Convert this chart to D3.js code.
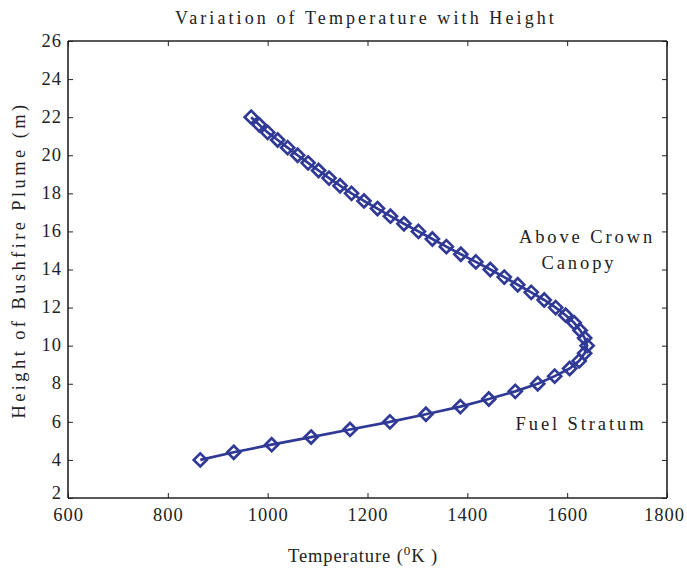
<!DOCTYPE html>
<html>
<head>
<meta charset="utf-8">
<script src="https://cdn.jsdelivr.net/npm/d3@7/dist/d3.min.js"></script>
<style>
  body { margin: 0; background: #fff; }
  svg text { font-family: "Liberation Serif", "Times New Roman", serif; fill: #222; }
</style>
</head>
<body>
<svg id="chart" width="687" height="574"></svg>
<script>
// Plume height (m) and the temperature (K) computed at each height
const heights = [
  4.0, 4.4, 4.8, 5.2, 5.6, 6.0, 6.4, 6.8, 7.2, 7.6, 8.0, 8.4, 8.8, 9.2, 9.6,
  10.0, 10.4, 10.8, 11.2, 11.6, 12.0, 12.4, 12.8, 13.2, 13.6, 14.0, 14.4, 14.8,
  15.2, 15.6, 16.0, 16.4, 16.8, 17.2, 17.6, 18.0, 18.4, 18.8, 19.2, 19.6, 20.0,
  20.4, 20.8, 21.2, 21.6, 22.0
];
const temperatures = [
  865, 932, 1008, 1087, 1165, 1245, 1317, 1386, 1443, 1496, 1541, 1575, 1605, 1624, 1635,
  1640, 1635, 1626, 1614, 1597, 1577, 1554, 1528, 1501, 1474, 1446, 1417, 1387,
  1358, 1330, 1302, 1273, 1246, 1220, 1193, 1168, 1145, 1123, 1102, 1081, 1060,
  1040, 1020, 1000, 983, 967
];
const xTicks = [600, 800, 1000, 1200, 1400, 1600, 1800];
const yTicks = [2, 4, 6, 8, 10, 12, 14, 16, 18, 20, 22, 24, 26];

const serif = '"Liberation Serif", "Times New Roman", serif';
const svg = d3.select("#chart");
const plot = { left: 68, right: 667, top: 41, bottom: 498 };
const color = "#303a96";

const x = d3.scaleLinear().domain([600, 1800]).range([plot.left, plot.right]);
const y = d3.scaleLinear().domain([2, 26]).range([plot.bottom, plot.top]);

const tickLen = 5;
const axisColor = "#222";

// Axes with inward ticks on all four sides
const gBottom = svg.append("g").attr("transform", `translate(0,${plot.bottom})`)
  .call(d3.axisBottom(x).tickValues(xTicks).tickSize(-tickLen).tickPadding(10).tickFormat(d3.format("d")));
const gTop = svg.append("g").attr("transform", `translate(0,${plot.top})`)
  .call(d3.axisTop(x).tickValues(xTicks).tickSize(-tickLen).tickFormat(""));
const gLeft = svg.append("g").attr("transform", `translate(${plot.left},0)`)
  .call(d3.axisLeft(y).tickValues(yTicks).tickSize(-tickLen).tickPadding(6).tickFormat(d3.format("d")));
const gRight = svg.append("g").attr("transform", `translate(${plot.right},0)`)
  .call(d3.axisRight(y).tickValues(yTicks).tickSize(-tickLen).tickFormat(""));

[gBottom, gTop, gLeft, gRight].forEach(g => {
  g.attr("font-family", serif);
  g.select(".domain").attr("stroke", axisColor).attr("stroke-width", 1.6);
  g.selectAll(".tick line").attr("stroke", axisColor).attr("stroke-width", 1);
  g.selectAll(".tick text")
    .style("font-family", serif)
    .style("font-size", "18.5px")
    .style("letter-spacing", "1px")
    .attr("fill", "#222");
});
gBottom.selectAll(".domain").attr("d", `M${plot.left},0H${plot.right}`);
gTop.selectAll(".domain").attr("d", `M${plot.left},0H${plot.right}`);
gLeft.selectAll(".domain").attr("d", `M0,${plot.top}V${plot.bottom}`);
gRight.selectAll(".domain").attr("d", `M0,${plot.top}V${plot.bottom}`);
// The lowest y label sits just above the corner so it clears the first x label
gLeft.selectAll(".tick text").attr("dy", d => d === 2 ? "0.05em" : "0.28em");
gBottom.selectAll(".tick text").attr("dx", d => d === 1800 ? "-3px" : "0px");

// Temperature profile line
const pts = heights.map((h, i) => ({ h, t: temperatures[i] }));
svg.append("path")
  .datum(pts)
  .attr("fill", "none")
  .attr("stroke", color)
  .attr("stroke-width", 2.7)
  .attr("stroke-linejoin", "round")
  .attr("d", d3.line().x(d => x(d.t)).y(d => y(d.h)));

// Diamond markers
const r = 6.5;
svg.append("g").selectAll("path")
  .data(pts)
  .join("path")
  .attr("transform", d => `translate(${x(d.t)},${y(d.h)})`)
  .attr("d", `M0,${-r}L${r},0L0,${r}L${-r},0Z`)
  .attr("fill", "none")
  .attr("stroke", color)
  .attr("stroke-width", 2.7);

// Title
svg.append("text")
  .attr("x", 366).attr("y", 24)
  .attr("text-anchor", "middle")
  .style("font-family", serif)
  .style("font-size", "18px").style("letter-spacing", "3.1px")
  .text("Variation of Temperature with Height");

// Axis labels
const xl = svg.append("text")
  .attr("x", 363).attr("y", 562)
  .attr("text-anchor", "middle")
  .style("font-family", serif)
  .style("font-size", "18.5px").style("letter-spacing", "0.9px");
xl.append("tspan").text("Temperature (");
xl.append("tspan").attr("dy", -7).style("font-size", "13px").text("0");
xl.append("tspan").attr("dy", 7).text("K )");

svg.append("text")
  .attr("transform", "translate(25,260) rotate(-90)")
  .attr("text-anchor", "middle")
  .style("font-family", serif)
  .style("font-size", "18.5px").style("letter-spacing", "3.4px")
  .text("Height of Bushfire Plume (m)");

// Region annotations
const ann = [
  { text: "Above Crown", cx: 587, cy: 243 },
  { text: "Canopy", cx: 579, cy: 269 },
  { text: "Fuel Stratum", cx: 581, cy: 430 }
];
svg.append("g").selectAll("text")
  .data(ann)
  .join("text")
  .attr("x", d => d.cx).attr("y", d => d.cy)
  .attr("text-anchor", "middle")
  .style("font-family", serif)
  .style("font-size", "18.5px").style("letter-spacing", "2.9px")
  .text(d => d.text);
</script>
</body>
</html>
